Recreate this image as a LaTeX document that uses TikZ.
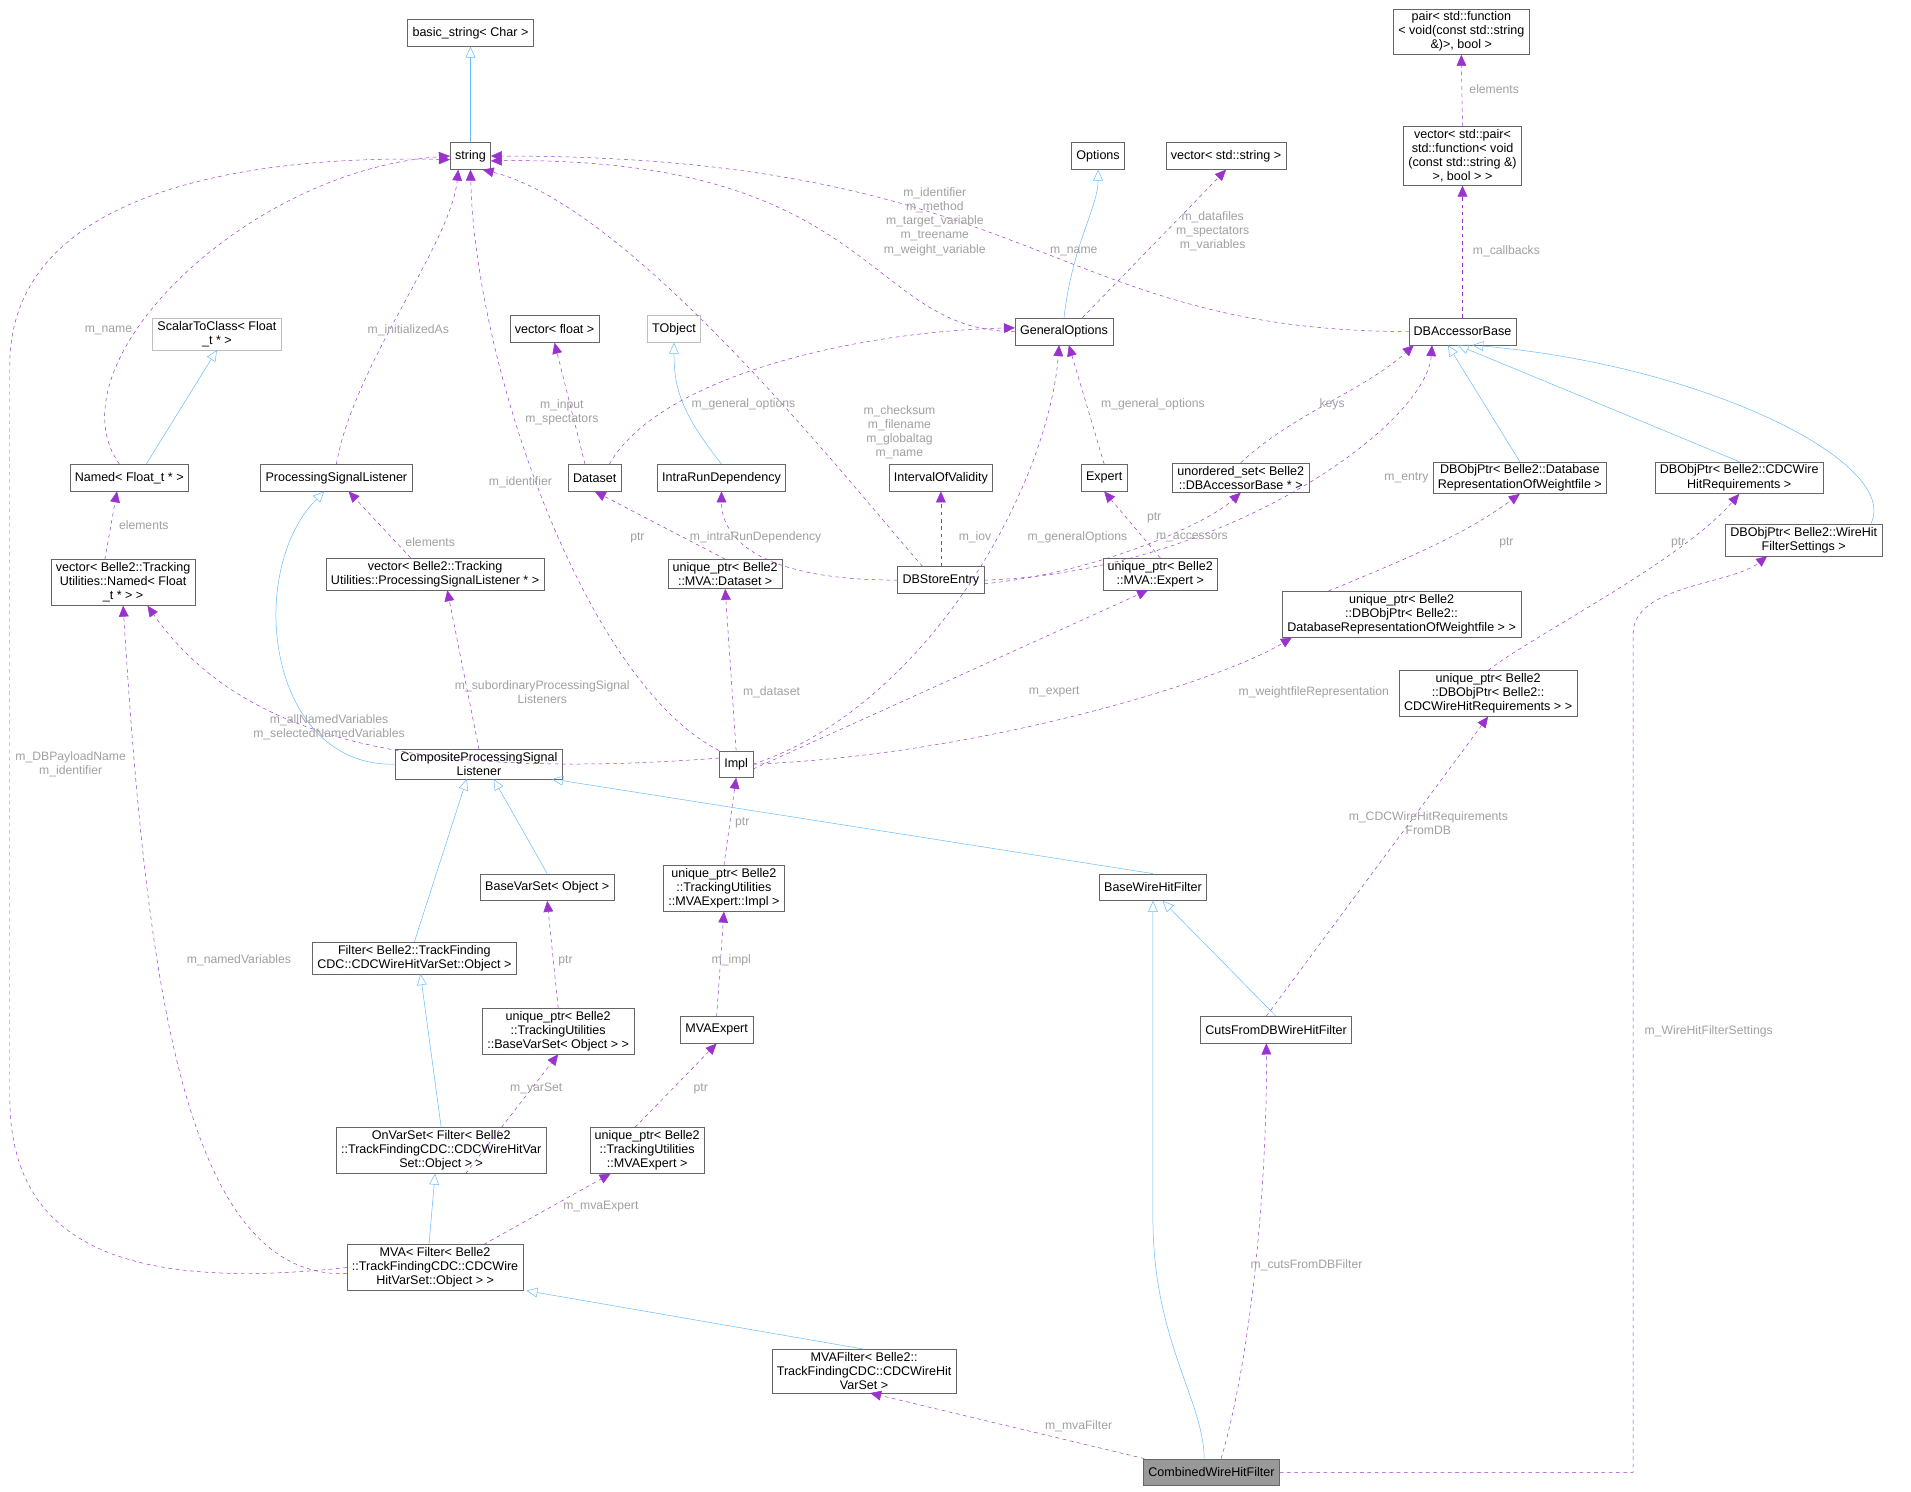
\documentclass[tikz,border=0pt]{standalone}
\usepackage{fontspec}
\setmainfont{Liberation Sans}
\usetikzlibrary{arrows.meta}
\definecolor{inhblue}{HTML}{63B8FF}
\definecolor{usepurple}{HTML}{9A32CD}
\definecolor{lblgray}{HTML}{A0A0A0}
\tikzset{
  cls/.style={draw=black!60, rectangle, align=center, inner xsep=4pt, inner ysep=2.5pt, minimum height=22pt, font=\fontsize{10.3}{11.5}\selectfont},
  ext/.style={cls, draw=black!25},
  main/.style={cls, fill=black!40},
  inh/.style={draw=inhblue, thin, -{Triangle[open, length=9pt, width=8pt]}},
  use/.style={draw=usepurple, thin, dashed, -{Triangle[length=9pt, width=8pt, fill=usepurple]}},
  lbl/.style={text=lblgray, align=center, font=\fontsize{10}{11.5}\selectfont, inner sep=1pt},
}
\begin{document}
\begin{tikzpicture}[x=1pt, y=-1pt]
\useasboundingbox (0,0) rectangle (1568,1224);
% classes
\node[cls] (bstr) at (386,27) {basic\_string\textless{} Char \textgreater{}};
\node[cls] (str) at (386,128) {string};
\node[cls] (opts) at (901,128) {Options};
\node[cls] (vstr) at (1006,128) {vector\textless{} std::string \textgreater{}};
\node[cls] (pair) at (1199,26) {pair\textless{} std::function\\\textless{} void(const std::string\\\&)\textgreater, bool \textgreater{}};
\node[cls] (vpair) at (1200,128) {vector\textless{} std::pair\textless\\ std::function\textless{} void\\(const std::string \&)\\\textgreater, bool \textgreater{} \textgreater{}};
\node[ext] (s2c) at (178,274) {ScalarToClass\textless{} Float\\\_t * \textgreater{}};
\node[cls] (vflt) at (455,270) {vector\textless{} float \textgreater{}};
\node[ext] (tobj) at (553,270) {TObject};
\node[cls] (gopt) at (873,272) {GeneralOptions};
\node[cls] (dbab) at (1200,272) {DBAccessorBase};
\node[cls] (named) at (106,392) {Named\textless{} Float\_t * \textgreater{}};
\node[cls] (psl) at (276,392) {ProcessingSignalListener};
\node[cls] (dset) at (488,392) {Dataset};
\node[cls] (ird) at (592,392) {IntraRunDependency};
\node[cls] (iov) at (772,392) {IntervalOfValidity};
\node[cls] (expert) at (906,392) {Expert};
\node[cls] (uset) at (1018,392) {unordered\_set\textless{} Belle2\\::DBAccessorBase * \textgreater{}};
\node[cls] (dbwf) at (1247,392) {DBObjPtr\textless{} Belle2::Database\\RepresentationOfWeightfile \textgreater{}};
\node[cls] (dbcdc) at (1427,392) {DBObjPtr\textless{} Belle2::CDCWire\\HitRequirements \textgreater{}};
\node[cls] (dbwh) at (1480,443) {DBObjPtr\textless{} Belle2::WireHit\\FilterSettings \textgreater{}};
\node[cls] (vnamed) at (101,478) {vector\textless{} Belle2::Tracking\\Utilities::Named\textless{} Float\\\_t * \textgreater{} \textgreater{}};
\node[cls] (vpsl) at (357,471) {vector\textless{} Belle2::Tracking\\Utilities::ProcessingSignalListener * \textgreater{}};
\node[cls] (updset) at (595,471) {unique\_ptr\textless{} Belle2\\::MVA::Dataset \textgreater{}};
\node[cls] (dbse) at (772,476) {DBStoreEntry};
\node[cls] (upexp) at (952,471) {unique\_ptr\textless{} Belle2\\::MVA::Expert \textgreater{}};
\node[cls] (updbwf) at (1150,504) {unique\_ptr\textless{} Belle2\\::DBObjPtr\textless{} Belle2::\\DatabaseRepresentationOfWeightfile \textgreater{} \textgreater{}};
\node[cls] (updbcdc) at (1221,569) {unique\_ptr\textless{} Belle2\\::DBObjPtr\textless{} Belle2::\\CDCWireHitRequirements \textgreater{} \textgreater{}};
\node[cls] (cpsl) at (393,627) {CompositeProcessingSignal\\Listener};
\node[cls] (impl) at (604,627) {Impl};
\node[cls] (bvs) at (449,728) {BaseVarSet\textless{} Object \textgreater{}};
\node[cls] (upimpl) at (594,729) {unique\_ptr\textless{} Belle2\\::TrackingUtilities\\::MVAExpert::Impl \textgreater{}};
\node[cls] (bwhf) at (946,728) {BaseWireHitFilter};
\node[cls] (filter) at (340,786) {Filter\textless{} Belle2::TrackFinding\\CDC::CDCWireHitVarSet::Object \textgreater{}};
\node[cls] (upbvs) at (458,846) {unique\_ptr\textless{} Belle2\\::TrackingUtilities\\::BaseVarSet\textless{} Object \textgreater{} \textgreater{}};
\node[cls] (mvaexp) at (588,845) {MVAExpert};
\node[cls] (cuts) at (1047,845) {CutsFromDBWireHitFilter};
\node[cls] (onvs) at (362,944) {OnVarSet\textless{} Filter\textless{} Belle2\\::TrackFindingCDC::CDCWireHitVar\\Set::Object \textgreater{} \textgreater{}};
\node[cls] (upmva) at (531,944) {unique\_ptr\textless{} Belle2\\::TrackingUtilities\\::MVAExpert \textgreater{}};
\node[cls] (mva) at (357,1040) {MVA\textless{} Filter\textless{} Belle2\\::TrackFindingCDC::CDCWire\\HitVarSet::Object \textgreater{} \textgreater{}};
\node[cls] (mvaf) at (709,1125) {MVAFilter\textless{} Belle2::\\TrackFindingCDC::CDCWireHit\\VarSet \textgreater{}};
\node[main] (cwhf) at (994,1208) {CombinedWireHitFilter};
% inheritance
\draw[inh] (str) -- (bstr);
\draw[inh] (gopt.north) .. controls (880,200) and (901,170) .. (opts.south);
\draw[inh] ([xshift=14pt]named.north) -- (s2c.south);
\draw[inh] (ird.north) .. controls (560,340) and (553,320) .. (tobj.south);
\draw[inh] (dbwf.north) -- ([xshift=-12pt]dbab.south);
\draw[inh] (dbcdc.north) -- ([xshift=-4pt]dbab.south);
\draw[inh] ([xshift=55pt]dbwh.north) .. controls (1560,380) and (1400,300) .. ([xshift=8pt]dbab.south);
\draw[inh] (cpsl.west) .. controls (220,630) and (200,470) .. ([xshift=-10pt]psl.south);
\draw[inh] (bvs.north) -- ([xshift=12pt]cpsl.south);
\draw[inh] (filter.north) -- ([xshift=-10pt]cpsl.south);
\draw[inh] (bwhf.north) -- ([xshift=60pt]cpsl.south);
\draw[inh] (cuts.north) -- ([xshift=8pt]bwhf.south);
\draw[inh] ([xshift=-6pt]cwhf.north) .. controls (988,1150) and (946,1100) .. (946,1000) -- (bwhf.south);
\draw[inh] (onvs.north) -- ([xshift=5pt]filter.south);
\draw[inh] ([xshift=-5pt]mva.north) -- ([xshift=-5pt]onvs.south);
\draw[inh] (mvaf.north) -- ([xshift=75pt]mva.south);
% usage
\draw[use] (vpair.north) -- (pair.south);
\node[lbl] (l1) at (1226,73) {elements};
\draw[use] (dbab.north) -- (vpair.south);
\node[lbl] (l2) at (1236,206) {m\_callbacks};
\draw[use] (dbab.west) .. controls (860,272) and (850,128) .. (str.east);
\node[lbl] (l3) at (881,206) {m\_name};
\draw[use] (gopt.west) .. controls (710,272) and (720,128) .. ([yshift=-4pt]str.east);
\node[lbl] (l4) at (767,182) {m\_identifier\\m\_method\\m\_target\_variable\\m\_treename\\m\_weight\_variable};
\draw[use] ([xshift=15pt]gopt.north) -- (vstr.south);
\node[lbl] (l5) at (995,190) {m\_datafiles\\m\_spectators\\m\_variables};
\draw[use] ([xshift=-8pt]named.north) .. controls (40,300) and (200,140) .. (str.west);
\node[lbl] (l6) at (89,271) {m\_name};
\draw[use] (psl.north) .. controls (290,300) and (370,200) .. ([xshift=-10pt]str.south);
\node[lbl] (l7) at (335,271) {m\_initializedAs};
\draw[use] ([xshift=-15pt]dbse.north) .. controls (700,400) and (520,170) .. ([xshift=10pt]str.south);
\node[lbl] (l8) at (738,355) {m\_checksum\\m\_filename\\m\_globaltag\\m\_name};
\draw[use] (impl.north west) .. controls (480,560) and (390,300) .. (str.south);
\node[lbl] (l9) at (427,396) {m\_identifier};
\draw[use] (mva.west) .. controls (100,1060) and (8,1020) .. (8,900) -- (8,300) .. controls (8,140) and (250,128) .. ([yshift=-3pt]str.west);
\node[lbl] (l10) at (58,627) {m\_DBPayloadName\\m\_identifier};
\draw[use] ([xshift=-8pt]dset.north) -- (vflt.south);
\node[lbl] (l11) at (461,338) {m\_input\\m\_spectators};
\draw[use] ([xshift=12pt]dset.north) .. controls (540,310) and (700,272) .. ([yshift=3pt]gopt.west);
\node[lbl] (l12) at (610,332) {m\_general\_options};
\draw[use] (expert.north) -- ([xshift=4pt]gopt.south);
\node[lbl] (l13) at (946,332) {m\_general\_options};
\draw[use] (impl.east) .. controls (760,580) and (860,400) .. ([xshift=-4pt]gopt.south);
\node[lbl] (l14) at (884,441) {m\_generalOptions};
\draw[use] (uset.north) .. controls (1060,340) and (1120,320) .. ([xshift=-40pt]dbab.south);
\node[lbl] (l15) at (1093,332) {keys};
\draw[use] (dbse.east) .. controls (1000,470) and (1170,350) .. ([xshift=-25pt]dbab.south);
\node[lbl] (l16) at (1154,392) {m\_entry};
\draw[use] ([yshift=-3pt]dbse.east) .. controls (900,470) and (990,430) .. (uset.south);
\node[lbl] (l17) at (978,441) {m\_accessors};
\draw[use] (dbse.west) .. controls (620,476) and (592,440) .. (ird.south);
\node[lbl] (l18) at (620,441) {m\_intraRunDependency};
\draw[use] (dbse.north) -- (iov.south);
\node[lbl] (l19) at (800,441) {m\_iov};
\draw[use] ([xshift=-15pt]vnamed.north) -- ([xshift=-10pt]named.south);
\node[lbl] (l20) at (118,431) {elements};
\draw[use] ([xshift=-20pt]vpsl.north) -- ([xshift=10pt]psl.south);
\node[lbl] (l21) at (353,445) {elements};
\draw[use] (updset.north) -- (dset.south);
\node[lbl] (l22) at (523,441) {ptr};
\draw[use] (upexp.north) -- (expert.south);
\node[lbl] (l23) at (947,425) {ptr};
\draw[use] ([xshift=-60pt]updbwf.north) .. controls (1150,460) and (1200,440) .. (dbwf.south);
\node[lbl] (l24) at (1236,445) {ptr};
\draw[use] (updbcdc.north) .. controls (1260,520) and (1380,460) .. (dbcdc.south);
\node[lbl] (l25) at (1377,445) {ptr};
\draw[use] (cwhf.east) -- (1340,1208) -- (1340,520) .. controls (1340,480) and (1420,480) .. ([xshift=-30pt]dbwh.south);
\node[lbl] (l26) at (1402,846) {m\_WireHitFilterSettings};
\draw[use] ([yshift=5pt]impl.west) .. controls (350,640) and (200,610) .. ([xshift=20pt]vnamed.south);
\node[lbl] (l27) at (270,597) {m\_allNamedVariables\\m\_selectedNamedVariables};
\draw[use] ([yshift=-5pt]mva.west) .. controls (150,1050) and (120,800) .. (vnamed.south);
\node[lbl] (l28) at (196,788) {m\_namedVariables};
\draw[use] (cpsl.north) -- ([xshift=10pt]vpsl.south);
\node[lbl] (l29) at (445,568) {m\_subordinaryProcessingSignal\\Listeners};
\draw[use] (impl.north) -- (updset.south);
\node[lbl] (l30) at (633,568) {m\_dataset};
\draw[use] ([yshift=-4pt]impl.east) -- ([xshift=-10pt]upexp.south);
\node[lbl] (l31) at (865,568) {m\_expert};
\draw[use] (impl.east) .. controls (800,620) and (1000,560) .. ([xshift=-90pt]updbwf.south);
\node[lbl] (l32) at (1078,568) {m\_weightfileRepresentation};
\draw[use] ([xshift=-8pt]cuts.north) -- (updbcdc.south);
\node[lbl] (l33) at (1172,675) {m\_CDCWireHitRequirements\\FromDB};
\draw[use] (upimpl.north) -- (impl.south);
\node[lbl] (l34) at (609,675) {ptr};
\draw[use] (mvaexp.north) -- (upimpl.south);
\node[lbl] (l35) at (600,788) {m\_impl};
\draw[use] (upbvs.north) -- (bvs.south);
\node[lbl] (l36) at (464,788) {ptr};
\draw[use] ([xshift=-10pt]upmva.north) -- (mvaexp.south);
\node[lbl] (l37) at (575,893) {ptr};
\draw[use] ([xshift=20pt]onvs.south) -- (upbvs.south);
\node[lbl] (l38) at (440,893) {m\_varSet};
\draw[use] ([xshift=40pt]mva.north) -- ([xshift=-30pt]upmva.south);
\node[lbl] (l39) at (493,990) {m\_mvaExpert};
\draw[use] ([xshift=-55pt]cwhf.north) -- ([xshift=5pt]mvaf.south);
\node[lbl] (l40) at (885,1170) {m\_mvaFilter};
\draw[use] ([xshift=8pt]cwhf.north) .. controls (1030,1100) and (1040,950) .. ([xshift=-8pt]cuts.south);
\node[lbl] (l41) at (1072,1038) {m\_cutsFromDBFilter};
\end{tikzpicture}
\end{document}
